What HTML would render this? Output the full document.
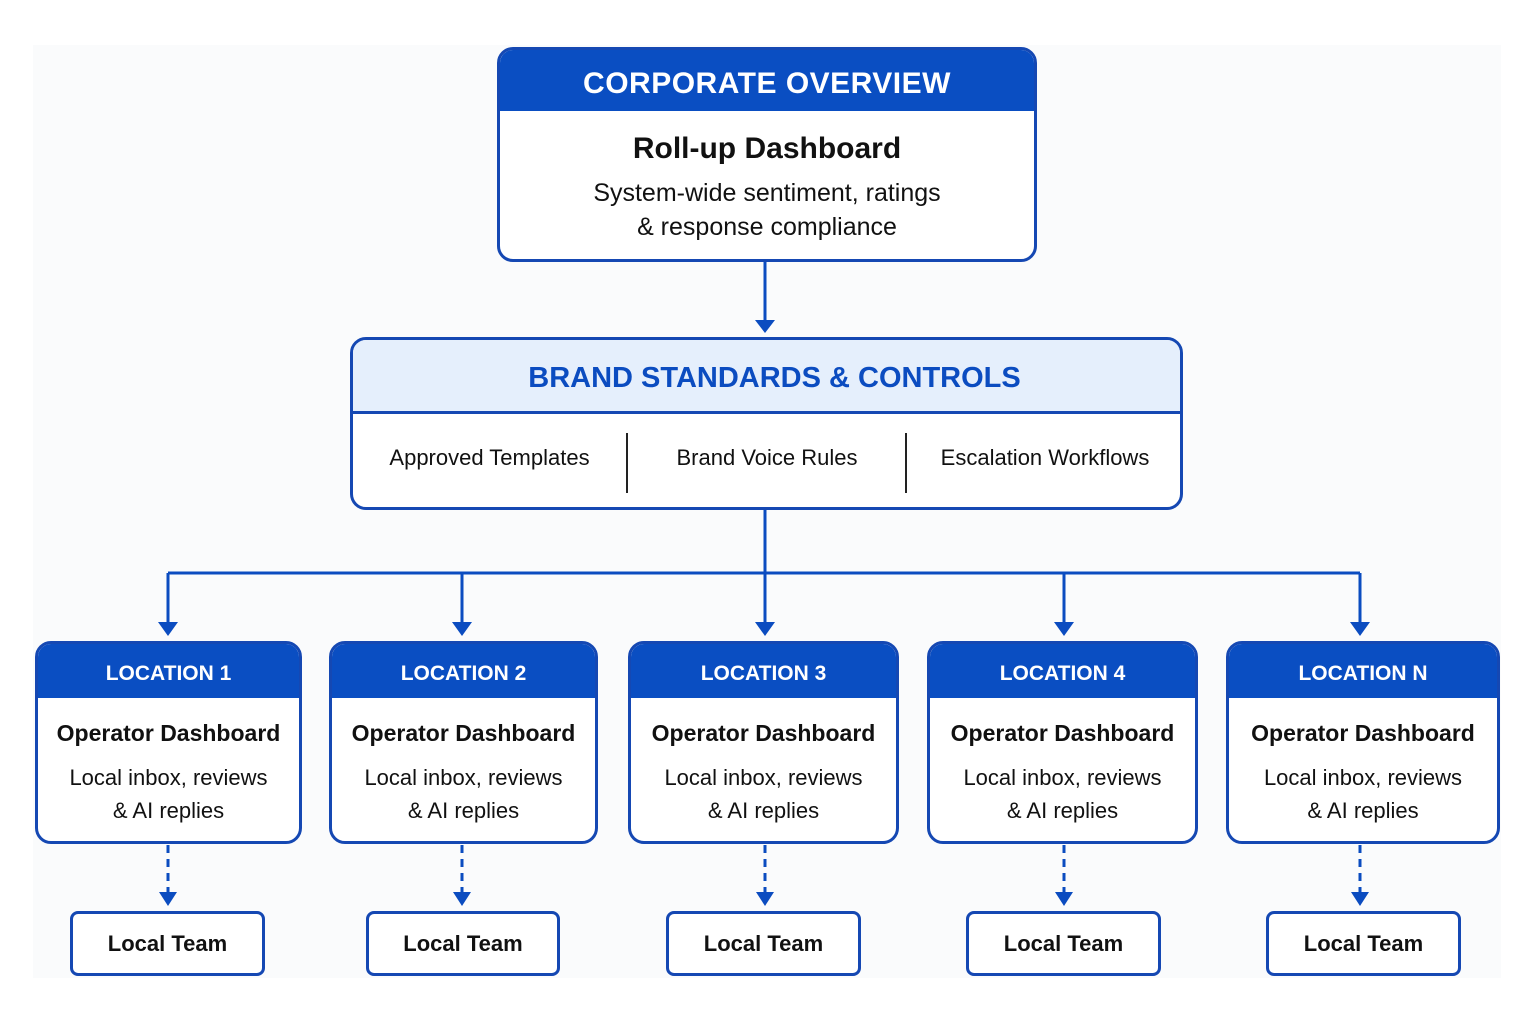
<!DOCTYPE html>
<html><head><meta charset="utf-8"><style>
body{margin:0;width:1535px;height:1023px;background:#fff;position:relative;overflow:hidden;font-family:"Liberation Sans",sans-serif;color:#111}
.bg{position:absolute;left:33px;top:45px;width:1468px;height:933px;background:#fafbfc}
.box{position:absolute;border:3px solid #1548b3;border-radius:16px;background:#fff;box-sizing:border-box;overflow:hidden}
.hd{background:#0a4ec2;color:#fff;font-weight:bold;text-align:center}
.c{text-align:center;position:absolute;left:0;right:0}
svg{position:absolute;left:0;top:0}
</style></head><body>
<div class="bg"></div>
<svg width="1535" height="1023">
<g stroke="#0b4cc0" stroke-width="3" fill="none">
<line x1="765" y1="261" x2="765" y2="322"/>
<line x1="765" y1="509" x2="765" y2="573"/>
<line x1="168" y1="573" x2="1360" y2="573"/>
<line x1="168" y1="573" x2="168" y2="624"/>
<line x1="462" y1="573" x2="462" y2="624"/>
<line x1="765" y1="573" x2="765" y2="624"/>
<line x1="1064" y1="573" x2="1064" y2="624"/>
<line x1="1360" y1="573" x2="1360" y2="624"/>
<g stroke-dasharray="8,6">
<line x1="168" y1="845" x2="168" y2="893"/>
<line x1="462" y1="845" x2="462" y2="893"/>
<line x1="765" y1="845" x2="765" y2="893"/>
<line x1="1064" y1="845" x2="1064" y2="893"/>
<line x1="1360" y1="845" x2="1360" y2="893"/>
</g></g>
<g fill="#0b4cc0">
<polygon points="755,320 775,320 765,333"/>
<polygon points="158,622 178,622 168,636"/>
<polygon points="452,622 472,622 462,636"/>
<polygon points="755,622 775,622 765,636"/>
<polygon points="1054,622 1074,622 1064,636"/>
<polygon points="1350,622 1370,622 1360,636"/>
<polygon points="159,892 177,892 168,906"/>
<polygon points="453,892 471,892 462,906"/>
<polygon points="756,892 774,892 765,906"/>
<polygon points="1055,892 1073,892 1064,906"/>
<polygon points="1351,892 1369,892 1360,906"/>
</g></svg>

<div class="box" style="left:497px;top:47px;width:540px;height:215px">
<div class="hd" style="height:61px;line-height:68px;font-size:30px;letter-spacing:0.5px">CORPORATE OVERVIEW</div>
<div class="c" style="top:82px;font-size:30px;font-weight:bold">Roll-up Dashboard</div>
<div class="c" style="top:126px;font-size:25px;line-height:34px">System-wide sentiment, ratings<br>&amp; response compliance</div>
</div>

<div class="box" style="left:350px;top:337px;width:833px;height:173px">
<div style="background:#e5effc;height:71px;border-bottom:3px solid #1548b3;text-align:center;line-height:76px;font-size:29px;font-weight:bold;color:#0b4cc0;padding-left:16px">BRAND STANDARDS &amp; CONTROLS</div>
<div style="position:absolute;left:0;width:273px;top:105px;text-align:center;font-size:22px">Approved Templates</div>
<div style="position:absolute;left:273px;top:93px;width:2px;height:60px;background:#222"></div>
<div style="position:absolute;left:275px;width:278px;top:105px;text-align:center;font-size:22px">Brand Voice Rules</div>
<div style="position:absolute;left:552px;top:93px;width:2px;height:60px;background:#222"></div>
<div style="position:absolute;left:554px;width:276px;top:105px;text-align:center;font-size:22px">Escalation Workflows</div>
</div>

<div class="box" style="left:35px;top:641px;width:267px;height:203px"><div class="hd" style="height:54px;line-height:60px;font-size:21px">LOCATION 1</div><div class="c" style="top:76px;font-size:23px;font-weight:bold">Operator Dashboard</div><div class="c" style="top:117px;font-size:22px;line-height:33px">Local inbox, reviews<br>&amp; AI replies</div></div>
<div class="box" style="left:329px;top:641px;width:269px;height:203px"><div class="hd" style="height:54px;line-height:60px;font-size:21px">LOCATION 2</div><div class="c" style="top:76px;font-size:23px;font-weight:bold">Operator Dashboard</div><div class="c" style="top:117px;font-size:22px;line-height:33px">Local inbox, reviews<br>&amp; AI replies</div></div>
<div class="box" style="left:628px;top:641px;width:271px;height:203px"><div class="hd" style="height:54px;line-height:60px;font-size:21px">LOCATION 3</div><div class="c" style="top:76px;font-size:23px;font-weight:bold">Operator Dashboard</div><div class="c" style="top:117px;font-size:22px;line-height:33px">Local inbox, reviews<br>&amp; AI replies</div></div>
<div class="box" style="left:927px;top:641px;width:271px;height:203px"><div class="hd" style="height:54px;line-height:60px;font-size:21px">LOCATION 4</div><div class="c" style="top:76px;font-size:23px;font-weight:bold">Operator Dashboard</div><div class="c" style="top:117px;font-size:22px;line-height:33px">Local inbox, reviews<br>&amp; AI replies</div></div>
<div class="box" style="left:1226px;top:641px;width:274px;height:203px"><div class="hd" style="height:54px;line-height:60px;font-size:21px">LOCATION N</div><div class="c" style="top:76px;font-size:23px;font-weight:bold">Operator Dashboard</div><div class="c" style="top:117px;font-size:22px;line-height:33px">Local inbox, reviews<br>&amp; AI replies</div></div>

<div class="box" style="left:70px;top:911px;width:195px;height:65px;border-radius:8px;line-height:60px;text-align:center;font-size:22px;font-weight:bold">Local Team</div>
<div class="box" style="left:366px;top:911px;width:194px;height:65px;border-radius:8px;line-height:60px;text-align:center;font-size:22px;font-weight:bold">Local Team</div>
<div class="box" style="left:666px;top:911px;width:195px;height:65px;border-radius:8px;line-height:60px;text-align:center;font-size:22px;font-weight:bold">Local Team</div>
<div class="box" style="left:966px;top:911px;width:195px;height:65px;border-radius:8px;line-height:60px;text-align:center;font-size:22px;font-weight:bold">Local Team</div>
<div class="box" style="left:1266px;top:911px;width:195px;height:65px;border-radius:8px;line-height:60px;text-align:center;font-size:22px;font-weight:bold">Local Team</div>
</body></html>
